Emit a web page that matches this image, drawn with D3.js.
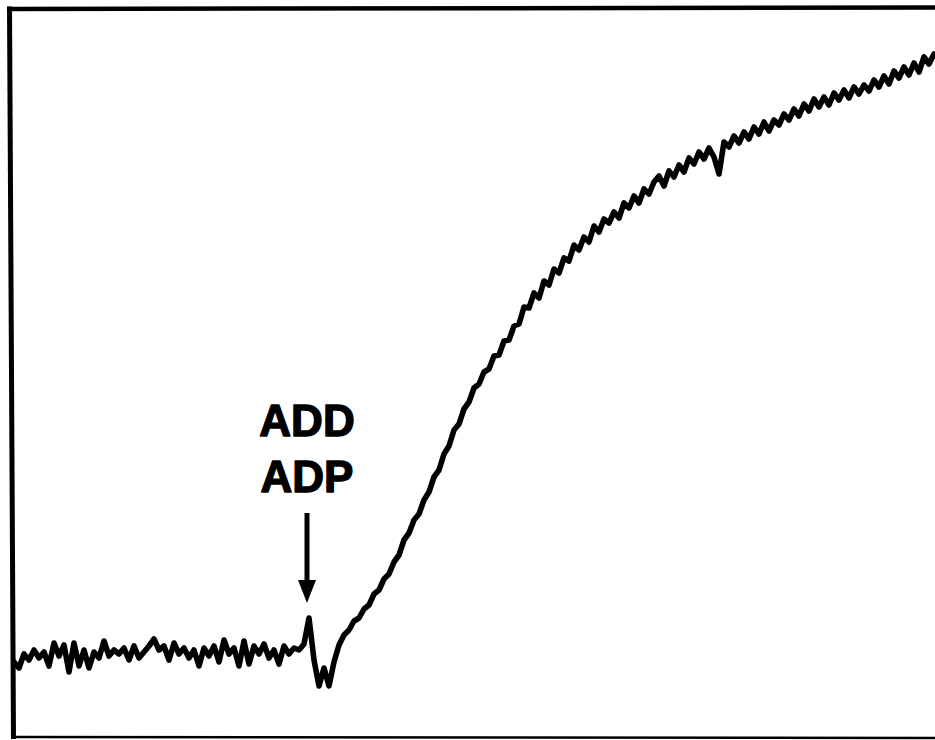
<!DOCTYPE html>
<html>
<head>
<meta charset="utf-8">
<script src="https://cdn.jsdelivr.net/npm/d3@7"></script>
<style>
  html, body { margin: 0; padding: 0; background: #fff; }
  svg { display: block; }
</style>
</head>
<body>
<svg id="chart" width="935" height="740"></svg>
<script>
// Recorder trace (arbitrary units, height above baseline of the frame), one sample per time step
const baselineSignal = [
  82, 76, 70, 84, 78, 88, 80, 86, 72, 95,
  82, 93, 66, 95, 72, 88, 70, 86, 80, 97,
  82, 88, 84, 90, 78, 92, 80, 86, 92, 99,
  88, 92, 78, 95, 84, 90, 80, 88, 72, 90,
  82, 92, 76, 98, 84, 90, 72, 97, 74, 92,
  84, 94, 80, 88, 74, 92, 84, 90, 88, 94
];
const additionArtifact = [120, 78, 52, 70, 52, 76, 93, 103];
const responseSignal = [
  108, 117, 120, 129, 133, 144, 148, 159, 164, 176,
  183, 198, 205, 218, 224, 238, 246, 261, 268, 284,
  292, 308, 314, 329, 336, 350, 354, 366, 369, 382,
  383, 397, 398, 412, 414, 431, 430, 445, 440, 457,
  453, 469, 465, 480, 477, 493, 488, 501, 496, 512,
  506, 519, 515, 526, 520, 535, 530, 542, 535, 549,
  544, 556, 562, 552, 567, 561, 573, 566, 580, 574,
  586, 579, 590, 581, 564, 596, 591, 602, 595, 606,
  599, 611, 604, 616, 607, 618, 613, 624, 618, 629,
  622, 634, 627, 639, 631, 641, 633, 645, 638, 648,
  640, 651, 644, 653, 647, 658, 651, 662, 654, 667,
  660, 671, 663, 675, 666, 681, 674, 684, 682
];
const annotationLines = ["ADD", "ADP"];
const additionSample = 60; // sample index where ADP was added

const signal = baselineSignal.concat(additionArtifact, responseSignal);

const svg = d3.select("#chart");
const W = 935, H = 740;

// scales: sample index -> px, signal -> px
const x = d3.scaleLinear().domain([0, 185]).range([9, 934]);
const y = d3.scaleLinear().domain([0, 728]).range([738, 10]);

// clip to frame interior
svg.append("clipPath").attr("id", "clip")
  .append("rect").attr("x", 12).attr("y", 9).attr("width", W - 12).attr("height", 728);

const line = d3.line()
  .x((d, i) => x(i))
  .y(d => y(d))
  .curve(d3.curveLinear);

svg.append("path")
  .datum(signal)
  .attr("clip-path", "url(#clip)")
  .attr("d", line)
  .attr("fill", "none")
  .attr("stroke", "#000")
  .attr("stroke-width", 5.6)
  .attr("stroke-linejoin", "round")
  .attr("stroke-linecap", "round");

// frame (left, top, bottom)
svg.append("line").attr("x1", 9.5).attr("y1", 6.5).attr("x2", 13.5).attr("y2", 739)
  .attr("stroke", "#000").attr("stroke-width", 5);
svg.append("line").attr("x1", 7).attr("y1", 9).attr("x2", W + 5).attr("y2", 7.5)
  .attr("stroke", "#000").attr("stroke-width", 4.5);
svg.append("line").attr("x1", 11).attr("y1", 737).attr("x2", W + 5).attr("y2", 738)
  .attr("stroke", "#000").attr("stroke-width", 2.5);

// annotation
const ax = x(additionSample) - 2;
const labelG = svg.append("g");
labelG.selectAll("text")
  .data(annotationLines)
  .join("text")
  .attr("x", ax)
  .attr("y", (d, i) => 436 + i * 56)
  .attr("text-anchor", "middle")
  .attr("font-family", "'Liberation Sans', Arial, Helvetica, sans-serif")
  .attr("font-weight", "bold")
  .attr("font-size", 44)
  .attr("fill", "#000")
  .attr("stroke", "#000")
  .attr("stroke-width", 1.4)
  .attr("stroke-linejoin", "round")
  .text(d => d);

svg.append("line")
  .attr("x1", ax).attr("y1", 513).attr("x2", ax).attr("y2", 584)
  .attr("stroke", "#000").attr("stroke-width", 5);
svg.append("path")
  .attr("d", d3.line()([[ax - 9, 580], [ax + 9, 580], [ax, 603]]) + "Z")
  .attr("fill", "#000");
</script>
</body>
</html>
